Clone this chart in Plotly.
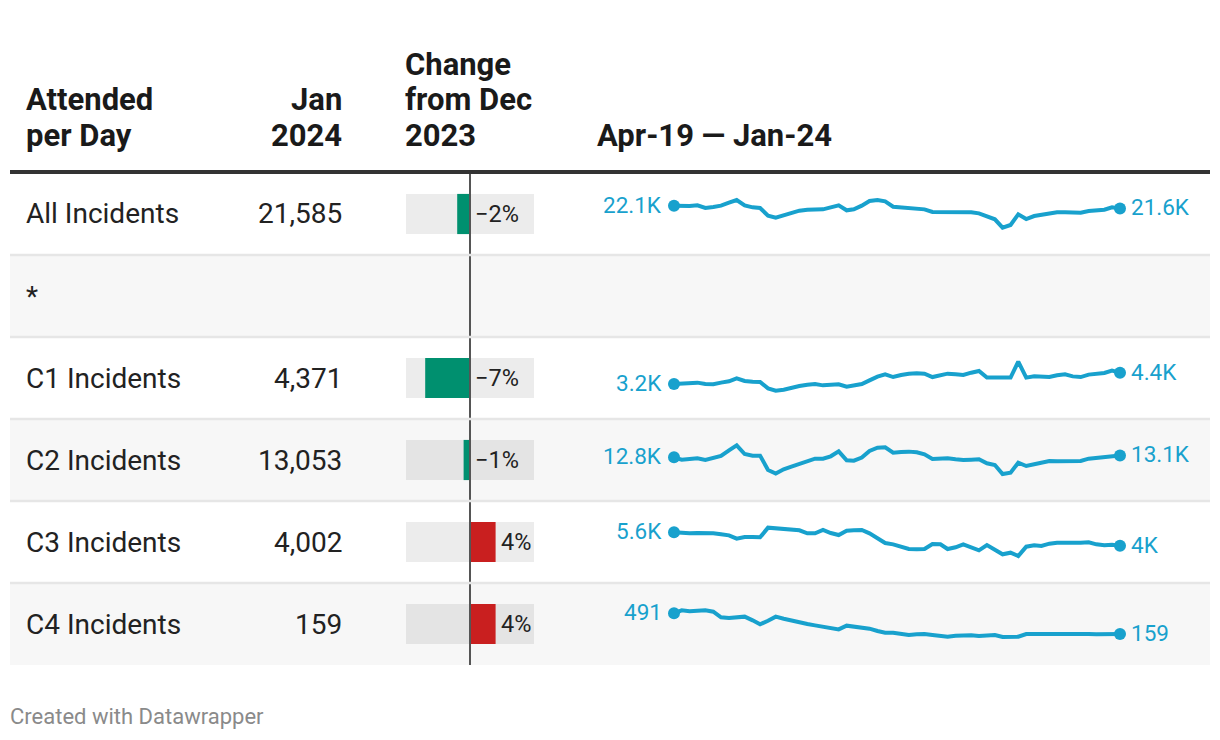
import pandas as pd
import plotly.graph_objects as go

# ---------------- data ----------------
row_labels = ["All Incidents", "*", "C1 Incidents", "C2 Incidents", "C3 Incidents", "C4 Incidents"]
jan_2024 = [21585, None, 4371, 13053, 4002, 159]
change_from_dec = [-2, None, -7, -1, 4, 4]
months = pd.date_range("2019-04-01", "2024-01-01", freq="MS")  # Apr-19 .. Jan-24

all_incidents = [22100, 21980, 22040, 22160, 21660, 21850, 22100, 22660, 23160, 22160,
                 21790, 21660, 20230, 19850, 20290, 20790, 21160, 21350, 21410, 21410,
                 21790, 22160, 21230, 21410, 22100, 22980, 23160, 22910, 21910, 21790,
                 21730, 21660, 21410, 20910, 20910, 20850, 20910, 20980, 20850, 20660,
                 20040, 19540, 17980, 18480, 20480, 19600, 20160, 20410, 20660, 20850,
                 20850, 20790, 20790, 21100, 21230, 21350, 21790, 21585]
c1_incidents = [3200, 3270, 3300, 3340, 3200, 3170, 3340, 3480, 3790, 3510,
                3440, 3410, 2750, 2510, 2610, 2820, 2990, 3130, 3200, 3060,
                3130, 3170, 2920, 3060, 3200, 3580, 3960, 4200, 3920, 4130,
                4270, 4300, 4270, 3920, 4060, 4270, 4200, 4130, 4370, 4550,
                3860, 3860, 3860, 3860, 5510, 3860, 3990, 3990, 3920, 4100,
                4200, 3990, 3920, 4170, 4300, 4340, 4580, 4371]
c2_incidents = [12800, 12490, 12580, 12670, 12440, 12670, 12980, 13750, 14420, 13250,
                13030, 13030, 11090, 10600, 11180, 11540, 11860, 12310, 12620, 12620,
                12940, 13610, 12400, 12350, 12760, 13660, 14110, 14150, 13430, 13520,
                13570, 13480, 13210, 12580, 12620, 12670, 12530, 12440, 12490, 12530,
                11990, 11770, 10550, 10730, 12080, 11630, 11860, 12130, 12310, 12260,
                12310, 12310, 12310, 12620, 12710, 12760, 12980, 13053]
c3_incidents = [5600, 5520, 5480, 5520, 5520, 5480, 5360, 5240, 4840, 5040,
                5040, 5000, 6160, 6080, 6000, 5920, 5840, 5480, 5480, 5880,
                5520, 5280, 5800, 5840, 5880, 5480, 4960, 4320, 4160, 3880,
                3600, 3560, 3600, 4200, 4160, 3600, 3800, 4160, 3800, 3440,
                4080, 3560, 2960, 3160, 2760, 3880, 4040, 3960, 4240, 4360,
                4320, 4320, 4360, 4400, 4160, 4040, 4120, 4002]
c4_incidents = [491, 539, 523, 523, 539, 518, 427, 416, 427, 438,
                379, 314, 373, 438, 405, 373, 341, 320, 298, 277,
                266, 234, 293, 282, 272, 245, 207, 181, 181, 159,
                143, 154, 159, 143, 133, 116, 133, 143, 138, 127,
                138, 143, 111, 111, 116, 159, 159, 159, 175, 170,
                165, 165, 170, 159, 154, 154, 159, 159]

trend_series = {0: all_incidents, 2: c1_incidents, 3: c2_incidents,
                4: c3_incidents, 5: c4_incidents}

# ---------------- layout constants ----------------
W, H = 1220, 740
FONT = "Roboto"
TEXT = "#222222"
BLUE = "#18a1cd"
GREEN = "#00906f"
RED = "#c91f1f"
ROW_TOP, ROW_H = 173, 82
N = len(row_labels)


def px(x):
    return x / W


def py(y):
    return 1 - y / H


# per-row value ranges for sparkline axes (vertical scaling of each sparkline)
spark_ranges = {0: [12850, 28225], 2: [-422, 8064], 3: [6905, 17975],
                4: [-480, 9360], 5: [-338, 978]}


def short(v):
    if v >= 1000:
        s = f"{v / 1000:.1f}"
        if s.endswith(".0"):
            s = s[:-2]
        return s + "K"
    return str(int(v))


fig = go.Figure()

# ---------- change bars ----------
bar_rows = [i for i, v in enumerate(change_from_dec) if v is not None]
bar_vals = [change_from_dec[i] for i in bar_rows]
fig.add_trace(go.Bar(
    orientation="h", y=bar_rows, x=[20] * len(bar_rows), base=-10,
    marker=dict(color="rgba(0,0,0,0.075)", line=dict(width=0)),
    width=0.49, xaxis="x", yaxis="y", hoverinfo="skip"))
fig.add_trace(go.Bar(
    orientation="h", y=bar_rows, x=bar_vals, base=0,
    marker=dict(color=[GREEN if v < 0 else RED for v in bar_vals], line=dict(width=0)),
    width=0.49, xaxis="x", yaxis="y", hoverinfo="skip"))

annotations = []
for i, v in zip(bar_rows, bar_vals):
    label = ("\u2212" if v < 0 else "") + f"{abs(v)}%"
    annotations.append(dict(
        x=max(v, 0), y=i, xref="x", yref="y", text=label, showarrow=False,
        xanchor="left", yanchor="middle", xshift=3,
        font=dict(family=FONT, size=23.5, color=TEXT)))

# ---------- sparklines ----------
layout_axes = {}
k = 2
for i, series in trend_series.items():
    xa, ya = f"x{k}", f"y{k}"
    fig.add_trace(go.Scatter(
        x=months, y=series, mode="lines", xaxis=xa, yaxis=ya,
        line=dict(color=BLUE, width=4), hoverinfo="skip", cliponaxis=False))
    fig.add_trace(go.Scatter(
        x=[months[0], months[-1]], y=[series[0], series[-1]], mode="markers",
        xaxis=xa, yaxis=ya, marker=dict(color=BLUE, size=12),
        hoverinfo="skip", cliponaxis=False))
    top = ROW_TOP + ROW_H * i
    layout_axes[f"xaxis{k}"] = dict(
        domain=[px(674), px(1120)], range=[months[0], months[-1]],
        visible=False, fixedrange=True, anchor=ya)
    layout_axes[f"yaxis{k}"] = dict(
        domain=[py(top + ROW_H), py(top)], range=spark_ranges[i],
        visible=False, fixedrange=True, anchor=xa)
    annotations.append(dict(
        x=months[0], y=series[0], xref=xa, yref=ya, text=short(series[0]),
        showarrow=False, xanchor="right", yanchor="middle", xshift=-10, yshift=1,
        font=dict(family=FONT, size=22.5, color=BLUE)))
    annotations.append(dict(
        x=months[-1], y=series[-1], xref=xa, yref=ya, text=short(series[-1]),
        showarrow=False, xanchor="left", yanchor="middle", xshift=9, yshift=1,
        font=dict(family=FONT, size=22.5, color=BLUE)))
    k += 1

# ---------- row text ----------
for i, name in enumerate(row_labels):
    annotations.append(dict(
        x=px(24), y=i, xref="paper", yref="y", text=name, showarrow=False,
        xanchor="left", yanchor="middle",
        font=dict(family=FONT, size=28, color=TEXT)))
    if jan_2024[i] is not None:
        annotations.append(dict(
            x=px(344), y=i, xref="paper", yref="y", text=f"{jan_2024[i]:,}",
            showarrow=False, xanchor="right", yanchor="middle",
            font=dict(family=FONT, size=28, color=TEXT)))

# ---------- header ----------
header_cols = [
    (["Attended", "per Day"], 24, "left"),
    (["Jan", "2024"], 344, "right"),
    (["Change", "from Dec", "2023"], 403, "left"),
    (["Apr-19 \u2014 Jan-24"], 595, "left"),
]
line_y = [135, 99.5, 64]
for lines, x, anchor in header_cols:
    for j, line in enumerate(reversed(lines)):
        annotations.append(dict(
            x=px(x), y=py(line_y[j]), xref="paper", yref="paper",
            text="<b>" + line + "</b>", showarrow=False,
            xanchor=anchor, yanchor="middle",
            font=dict(family=FONT, size=31, color="#1a1a1a")))

annotations.append(dict(
    x=px(8), y=py(716), xref="paper", yref="paper",
    text="Created with Datawrapper", showarrow=False,
    xanchor="left", yanchor="middle",
    font=dict(family=FONT, size=22, color="#8a8a8a")))

# ---------- shapes ----------
shapes = []
for i in range(N):
    if i % 2 == 1:
        shapes.append(dict(
            type="rect", xref="paper", yref="y", x0=px(10), x1=px(1210),
            y0=i - 0.5, y1=i + 0.5, fillcolor="#f7f7f7",
            line=dict(width=0), layer="below"))
shapes.append(dict(
    type="line", xref="x", yref="y", x0=0, x1=0, y0=-0.5, y1=N - 0.5,
    line=dict(color="#555555", width=2), layer="above"))
for i in range(N - 1):
    shapes.append(dict(
        type="line", xref="paper", yref="y", x0=px(10), x1=px(1210),
        y0=i + 0.5, y1=i + 0.5, line=dict(color="#e6e6e6", width=2.5),
        layer="above"))
shapes.append(dict(
    type="line", xref="paper", yref="paper", x0=px(10), x1=px(1210),
    y0=py(172), y1=py(172), line=dict(color="#333333", width=4), layer="above"))

fig.update_layout(
    width=W, height=H, margin=dict(l=0, r=0, t=0, b=0),
    paper_bgcolor="white", plot_bgcolor="rgba(0,0,0,0)",
    showlegend=False, hovermode=False, barmode="overlay",
    font=dict(family=FONT, color=TEXT),
    xaxis=dict(domain=[px(406), px(534)], range=[-10, 10], visible=False,
               fixedrange=True),
    yaxis=dict(domain=[py(ROW_TOP + ROW_H * N), py(ROW_TOP)],
               range=[N - 0.5, -0.5], visible=False, fixedrange=True),
    annotations=annotations, shapes=shapes, **layout_axes)

fig.write_html("out.html", config={"displayModeBar": False, "staticPlot": True},
               post_script="document.body.style.margin='0';")
